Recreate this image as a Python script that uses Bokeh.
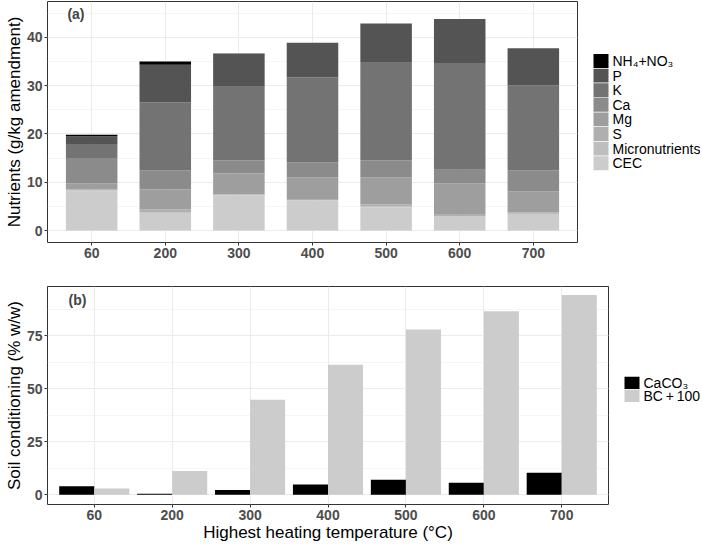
from bokeh.plotting import figure
from bokeh.models import (ColumnDataSource, FactorRange, Range1d, Label, SingleIntervalTicker)
from bokeh.layouts import column, row
from bokeh.transform import dodge
from bokeh.core.properties import value
from bokeh.embed import file_html
from bokeh.resources import INLINE

# ---------------- data ----------------
temps = ["60", "200", "300", "400", "500", "600", "700"]

# panel (a): nutrients (g/kg amendment), stacked bottom -> top
cec = [8.07, 3.6, 7.24, 6.2, 4.83, 2.83, 3.24]
micronutrients = [0.2, 0.2, 0.14, 0.14, 0.2, 0.14, 0.21]
s_vals = [0.27, 0.55, 0.2, 0.2, 0.35, 0.27, 0.34]
mg = [1.25, 4.15, 4.2, 4.5, 5.65, 6.55, 4.35]
ca = [5.2, 3.9, 2.7, 3.1, 3.5, 2.8, 4.3]
k_vals = [2.9, 14.1, 15.3, 17.6, 20.2, 22.1, 17.6]
p_vals = [1.6, 7.8, 6.8, 7.1, 8.1, 9.1, 7.7]
nh4_no3 = [0.35, 0.69, 0.05, 0.0, 0.0, 0.0, 0.0]

stack_keys = ["cec", "micro", "s", "mg", "ca", "k", "p", "nh4"]
stack_labels = ["CEC", "Micronutrients", "S", "Mg", "Ca", "K", "P", "NH\u2084+NO\u2083"]
stack_colors = ["#CCCCCC", "#BEBEBE", "#AFAFAF", "#9E9E9E", "#8B8B8B", "#737373", "#545454", "#000000"]

# panel (b): soil conditioning (% w/w)
caco3 = [4.0, 0.5, 2.2, 4.8, 7.1, 5.7, 10.4]
bc_plus_100 = [2.9, 11.2, 44.8, 61.4, 78.0, 86.6, 94.3]
b_labels = ["CaCO\u2083", "BC\u2009+\u2009100"]
b_colors = ["#000000", "#CCCCCC"]

FONT = "Liberation Sans"


def style(p):
    p.background_fill_color = "white"
    p.border_fill_color = "white"
    p.outline_line_color = "#333333"
    p.outline_line_width = 1
    for ax in (p.xaxis, p.yaxis):
        ax.axis_line_color = None
        ax.major_tick_line_color = "#333333"
        ax.major_tick_out = 3
        ax.major_tick_in = 0
        ax.minor_tick_out = 0
        ax.minor_tick_in = 0
        ax.major_label_text_font = FONT
        ax.major_label_text_font_style = "bold"
        ax.major_label_text_font_size = "14px"
        ax.major_label_text_color = "#4D4D4D"
        ax.major_label_standoff = 2
        ax.axis_label_text_font = FONT
        ax.axis_label_text_font_style = "normal"
        ax.axis_label_text_font_size = "17px"
        ax.axis_label_text_color = "black"
        ax.axis_label_standoff = 0
    p.xgrid.grid_line_color = "#EBEBEB"
    p.ygrid.grid_line_color = "#EBEBEB"
    p.ygrid.minor_grid_line_color = "#EFEFEF"
    p.ygrid.minor_grid_line_width = 0.6


def legend_fig(labels, colors, width, height, top, key_x=14, row_h=16.25):
    """Manual legend drawn in a small axis-less figure (pixel coordinates)."""
    lf = figure(width=width, height=height, x_range=Range1d(0, width), y_range=Range1d(height, 0),
                output_backend="svg", toolbar_location=None,
                x_axis_type=None, y_axis_type=None,
                min_border_left=0, min_border_right=0, min_border_top=0, min_border_bottom=0)
    lf.outline_line_color = None
    lf.grid.visible = False
    lf.background_fill_color = "white"
    lf.border_fill_color = "white"
    n = len(labels)
    ys = [top + row_h * i + row_h / 2 for i in range(n)]
    lf.rect(x=[key_x + 7.5] * n, y=ys, width=15, height=row_h - 0.8, fill_color=colors,
            line_color=None)
    lf.text(x=[key_x + 19] * n, y=ys, text=labels, text_font=value(FONT),
            text_font_size="14px", text_baseline="middle", text_align="left",
            text_color="black")
    return lf


# ---------------- panel (a) ----------------
src_a = ColumnDataSource(dict(temp=temps, cec=cec, micro=micronutrients, s=s_vals, mg=mg,
                              ca=ca, k=k_vals, p=p_vals, nh4=nh4_no3))

p1 = figure(x_range=FactorRange(*temps, range_padding=0.1, range_padding_units="absolute"),
            y_range=Range1d(-2.48, 47.4),
            width=579, height=268,
            output_backend="svg", toolbar_location=None,
            min_border_left=47, min_border_top=1, min_border_bottom=26, min_border_right=2)
p1.vbar_stack(stack_keys, x="temp", width=0.7, color=stack_colors, line_color=None,
              source=src_a)
p1.yaxis.ticker = SingleIntervalTicker(interval=10, num_minor_ticks=2)
p1.yaxis.axis_label = "Nutrients (g/kg amendment)"
style(p1)
p1.add_layout(Label(x=0.17, y=44.8, text="(a)", text_font=FONT, text_font_style="bold",
                    text_font_size="14px", text_baseline="middle", text_align="left"))
l1 = legend_fig(stack_labels[::-1], stack_colors[::-1], 121, 268, top=58)

# ---------------- panel (b) ----------------
src_b = ColumnDataSource(dict(temp=temps, caco3=caco3, bc=bc_plus_100))
p2 = figure(x_range=FactorRange(*temps, range_padding=0.1, range_padding_units="absolute"),
            y_range=Range1d(-4.6, 98.3),
            width=610, height=276,
            output_backend="svg", toolbar_location=None,
            min_border_left=47, min_border_top=18, min_border_bottom=40, min_border_right=2)
p2.vbar(x=dodge("temp", -0.225, range=p2.x_range), top="caco3", width=0.45,
        color=b_colors[0], line_color=None, source=src_b)
p2.vbar(x=dodge("temp", 0.225, range=p2.x_range), top="bc", width=0.45,
        color=b_colors[1], line_color=None, source=src_b)
p2.yaxis.ticker = SingleIntervalTicker(interval=25, num_minor_ticks=2)
p2.yaxis.axis_label = "Soil conditioning (% w/w)"
p2.xaxis.axis_label = "Highest heating temperature (\u00b0C)"
style(p2)
p2.add_layout(Label(x=0.17, y=92.1, text="(b)", text_font=FONT, text_font_style="bold",
                    text_font_size="14px", text_baseline="middle", text_align="left"))
l2 = legend_fig(b_labels, b_colors, 90, 276, top=114)

layout = column(row(p1, l1, spacing=0), row(p2, l2, spacing=0), spacing=0)
open("out.html", "w").write(file_html(layout, INLINE))
